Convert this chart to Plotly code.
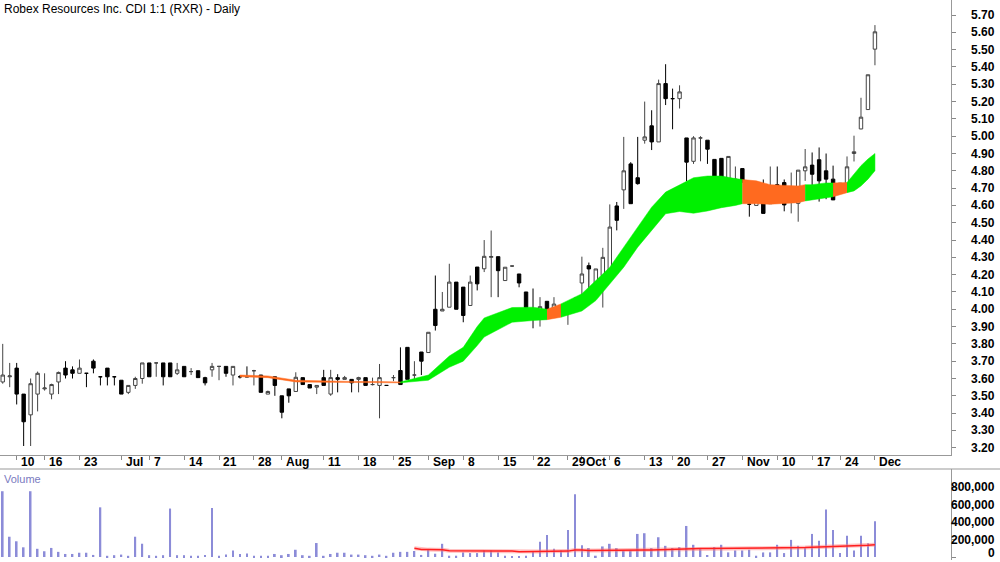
import pandas as pd
import plotly.graph_objects as go

# daily bars, 5 Jun .. 1 Dec (bar number on x)
opens = [3.58, 3.61, 3.66, 3.51, 3.39, 3.51, 3.54, 3.51, 3.58, 3.66, 3.65, 3.63, 3.63, 3.70, 3.61, 3.66, 3.61,
         3.59, 3.52, 3.56, 3.60, 3.69, 3.69, 3.69, 3.69, 3.63, 3.67, 3.64, 3.645, 3.605, 3.65, 3.67, 3.67, 3.62, 3.61, 3.61,
         3.645, 3.62, 3.51, 3.61, 3.50, 3.54, 3.525, 3.605, 3.565, 3.55, 3.605, 3.51, 3.605, 3.595, 3.595, 3.595, 3.605,
         3.565, 3.56, 3.56, 3.605, 3.646, 3.78, 3.62, 3.753, 3.75, 4.0, 3.99, 4.012, 4.157, 4.128, 4.022, 4.244, 4.234,
         4.30, 4.304, 4.166, 4.25, 4.204, 4.10, 4.0, 3.996, 4.046, 3.996, 4.02, 4.0, 4.02, 4.152, 4.252, 4.152, 4.195,
         4.214, 4.597, 4.69, 4.84, 4.76, 4.977, 5.06, 4.967, 5.304, 5.217, 5.217, 4.99, 4.855, 4.99, 4.977, 4.866, 4.872,
         4.752, 4.737, 4.813, 4.607, 4.60, 4.72, 4.61, 4.72, 4.732, 4.65, 4.612, 4.80, 4.833, 4.864, 4.80, 4.752, 4.728,
         4.723, 4.90, 5.042, 5.154, 5.503]
highs = [3.80, 3.69, 3.69, 3.51, 3.60, 3.64, 3.63, 3.57, 3.64, 3.70, 3.67, 3.71, 3.63, 3.71, 3.61, 3.66, 3.61,
         3.59, 3.56, 3.61, 3.69, 3.69, 3.69, 3.69, 3.69, 3.69, 3.67, 3.66, 3.645, 3.61, 3.69, 3.67, 3.67, 3.67, 3.62, 3.67,
         3.65, 3.62, 3.53, 3.61, 3.50, 3.54, 3.636, 3.605, 3.565, 3.56, 3.65, 3.65, 3.625, 3.615, 3.595, 3.61, 3.605,
         3.605, 3.684, 3.56, 3.62, 3.78, 3.78, 3.70, 3.753, 3.867, 4.195, 4.10, 4.263, 4.157, 4.128, 4.195, 4.244, 4.40,
         4.455, 4.304, 4.243, 4.25, 4.204, 4.10, 4.12, 4.07, 4.046, 4.07, 4.02, 4.0, 4.07, 4.304, 4.27, 4.233, 4.355,
         4.606, 4.62, 4.996, 4.85, 4.996, 5.20, 5.15, 5.327, 5.416, 5.275, 5.294, 4.99, 5.0, 5.0, 4.977, 4.866, 4.872,
         4.883, 4.825, 4.813, 4.655, 4.65, 4.75, 4.825, 4.825, 4.75, 4.79, 4.804, 4.926, 4.906, 4.935, 4.90, 4.83, 4.728,
         4.883, 5.003, 5.222, 5.355, 5.642]
lows = [3.57, 3.55, 3.45, 3.21, 3.21, 3.41, 3.53, 3.48, 3.51, 3.60, 3.60, 3.63, 3.55, 3.63, 3.56, 3.56, 3.56,
        3.51, 3.51, 3.54, 3.57, 3.61, 3.61, 3.56, 3.61, 3.62, 3.61, 3.62, 3.605, 3.56, 3.61, 3.59, 3.61, 3.56, 3.60, 3.61,
        3.56, 3.52, 3.51, 3.50, 3.37, 3.46, 3.525, 3.565, 3.545, 3.51, 3.56, 3.50, 3.52, 3.595, 3.52, 3.52, 3.56,
        3.56, 3.37, 3.56, 3.585, 3.565, 3.595, 3.588, 3.62, 3.75, 3.877, 3.99, 4.012, 4.0, 3.925, 4.022, 4.109, 4.215,
        4.07, 4.07, 4.166, 4.245, 4.127, 4.01, 3.89, 3.90, 3.97, 3.97, 3.96, 3.91, 4.0, 4.07, 4.07, 4.152, 4.01,
        4.214, 4.456, 4.58, 4.61, 4.72, 4.957, 4.92, 4.967, 5.18, 5.04, 5.16, 4.74, 4.84, 4.855, 4.84, 4.655, 4.62,
        4.74, 4.72, 4.73, 4.535, 4.60, 4.554, 4.61, 4.70, 4.566, 4.554, 4.506, 4.742, 4.684, 4.622, 4.636, 4.632, 4.674,
        4.723, 4.854, 5.04, 5.154, 5.41]
closes = [3.62, 3.615, 3.51, 3.35, 3.57, 3.63, 3.545, 3.565, 3.635, 3.62, 3.63, 3.66, 3.63, 3.66, 3.61, 3.61, 3.61,
          3.51, 3.56, 3.60, 3.69, 3.61, 3.69, 3.61, 3.61, 3.65, 3.61, 3.64, 3.605, 3.575, 3.67, 3.67, 3.63, 3.67, 3.61, 3.61,
          3.645, 3.52, 3.525, 3.56, 3.405, 3.50, 3.607, 3.565, 3.545, 3.56, 3.56, 3.605, 3.595, 3.605, 3.575, 3.605, 3.56,
          3.565, 3.605, 3.56, 3.605, 3.565, 3.595, 3.62, 3.70, 3.867, 3.906, 4.0, 4.157, 4.0, 3.964, 4.157, 4.147, 4.306,
          4.305, 4.223, 4.243, 4.25, 4.152, 4.01, 4.0, 4.015, 3.99, 4.03, 3.985, 4.0, 4.05, 4.204, 4.233, 4.233, 4.30,
          4.475, 4.514, 4.80, 4.61, 4.726, 4.996, 4.967, 5.304, 5.217, 5.217, 5.256, 4.85, 4.99, 4.99, 4.925, 4.688, 4.703,
          4.883, 4.752, 4.742, 4.607, 4.65, 4.554, 4.65, 4.71, 4.603, 4.65, 4.804, 4.823, 4.78, 4.742, 4.752, 4.632, 4.703,
          4.823, 4.91, 5.11, 5.355, 5.603]
volumes = [752, 232, 180, 111, 752, 94, 66, 104, 59, 35, 35, 49, 49, 24, 568, 14, 21, 28, 14, 232, 152, 21, 14, 21,
           554, 21, 21, 14, 14, 24, 560, 14, 28, 76, 35, 41, 14, 14, 14, 35, 21, 35, 83, 21, 14, 160, 14, 35, 49, 49,
           28, 28, 21, 14, 28, 14, 49, 59, 59, 69, 24, 83, 38, 151, 15, 15, 53, 45, 45, 75, 75, 53, 15, 8, 8, 15, 64,
           174, 253, 94, 75, 309, 717, 136, 102, 15, 121, 151, 102, 75, 75, 264, 272, 102, 226, 128, 102, 113, 355,
           140, 91, 23, 113, 140, 53, 75, 75, 83, 15, 53, 53, 140, 45, 196, 128, 102, 264, 185, 543, 309, 45, 242,
           75, 242, 158, 408]
volumes = [v * 1000 for v in volumes]

# average ribbon edges (g = rising/green, o = orange)
band_idx = [34, 38, 42, 46, 50, 54, 57, 61, 64, 66, 68, 69, 73, 76, 78, 80, 83, 85, 87, 89, 91, 93, 95, 97, 99,
            101, 103, 105, 106, 108, 110, 112, 114, 115, 116, 118, 119, 120, 121, 122, 123, 124, 125]
band_hi = [3.62, 3.615, 3.59, 3.585, 3.583, 3.582, 3.58, 3.62, 3.73, 3.78, 3.90, 3.95, 4.01, 4.012, 4.0, 4.031,
           4.09, 4.166, 4.243, 4.359, 4.475, 4.59, 4.677, 4.72, 4.76, 4.77, 4.77, 4.755, 4.75, 4.742, 4.72, 4.717,
           4.713, 4.72, 4.72, 4.73, 4.73, 4.73, 4.732, 4.78, 4.83, 4.868, 4.90]
band_lo = [3.61, 3.605, 3.58, 3.578, 3.575, 3.575, 3.575, 3.59, 3.665, 3.70, 3.79, 3.84, 3.925, 3.935, 3.94, 3.954,
           3.99, 4.05, 4.147, 4.243, 4.359, 4.455, 4.552, 4.565, 4.555, 4.568, 4.587, 4.60, 4.61, 4.61, 4.607, 4.61,
           4.616, 4.626, 4.635, 4.645, 4.65, 4.66, 4.674, 4.684, 4.713, 4.752, 4.80]
band_col = ['o', 'o', 'o', 'o', 'o', 'o', 'g', 'g', 'g', 'g', 'g', 'g', 'g', 'g', 'o', 'g', 'g', 'g', 'g', 'g',
            'g', 'g', 'g', 'g', 'g', 'g', 'g', 'g', 'o', 'o', 'o', 'o', 'o', 'g', 'g', 'g', 'o', 'o', 'g', 'g', 'g',
            'g', 'g']

tick_idx = [2, 6, 11, 17, 21, 26, 31, 36, 40, 46, 51, 56, 61, 66, 71, 76, 81, 83, 87, 92, 96, 101, 106, 111, 116, 120, 125]
tick_text = ['10', '16', '23', 'Jul', '7', '14', '21', '28', 'Aug', '11', '18', '25', 'Sep', '8', '15', '22', '29',
             'Oct', '6', '13', '20', '27', 'Nov', '10', '17', '24', 'Dec']

price_ticks = [3.2 + 0.1 * k for k in range(26)]
vol_ticks = [0, 200000, 400000, 600000, 800000]

bars = list(range(len(closes)))
H = 562
FONT = 'Liberation Sans, Arial, sans-serif'

fig = go.Figure()

# ribbon, drawn as runs of the same colour
colours = {'g': '#00f000', 'o': '#ff6a1f'}
start = 0
for i in range(1, len(band_idx)):
    if i == len(band_idx) - 1 or band_col[i] != band_col[start]:
        xs = band_idx[start:i + 1]
        fig.add_trace(go.Scatter(
            x=xs + xs[::-1], y=band_hi[start:i + 1] + band_lo[start:i + 1][::-1],
            fill='toself', fillcolor=colours[band_col[start]], mode='lines',
            line=dict(width=0.5, color=colours[band_col[start]]), hoverinfo='skip',
            xaxis='x', yaxis='y'))
        start = i

fig.add_trace(go.Candlestick(
    x=bars, open=opens, high=highs, low=lows, close=closes,
    increasing=dict(fillcolor='white', line=dict(color='#444444', width=1)),
    decreasing=dict(fillcolor='black', line=dict(color='black', width=1)),
    whiskerwidth=0, xaxis='x', yaxis='y'))

fig.add_trace(go.Bar(x=bars, y=volumes, width=0.25, marker=dict(color='#8c8cd8', line=dict(width=0)),
                     xaxis='x2', yaxis='y2'))

vol_avg = pd.Series(volumes).rolling(60).mean()
fig.add_trace(go.Scatter(x=bars, y=vol_avg, mode='lines', line=dict(color='rgba(255,120,120,0.45)', width=4),
                         xaxis='x2', yaxis='y2', hoverinfo='skip'))
fig.add_trace(go.Scatter(x=bars, y=vol_avg, mode='lines', line=dict(color='#ff1f1f', width=1.5),
                         xaxis='x2', yaxis='y2'))

xr = [-0.39, 135.9]
fig.update_layout(
    width=1000, height=H, margin=dict(l=0, r=49, t=0, b=0),
    paper_bgcolor='white', plot_bgcolor='white', showlegend=False,
    font=dict(family=FONT, size=12, color='black'),
    xaxis=dict(domain=[0, 1], range=xr, showgrid=False, zeroline=False, rangeslider=dict(visible=False),
               tickvals=tick_idx, showticklabels=False, ticks='outside', ticklen=4, tickcolor='#888888',
               showline=True, linecolor='#999999', linewidth=1, anchor='y'),
    yaxis=dict(domain=[1 - 455 / H, 1], range=[3.158, 5.787], side='right', showgrid=False, zeroline=False,
               tickvals=price_ticks, showticklabels=False, ticks='outside', ticklen=4, tickcolor='#888888',
               showline=True, linecolor='#999999'),
    xaxis2=dict(domain=[0, 1], range=xr, showgrid=False, zeroline=False, showticklabels=False, anchor='y2'),
    yaxis2=dict(domain=[(H - 560) / H, (H - 469) / H], range=[-34000, 1006000], side='right', showgrid=False,
                zeroline=False, tickvals=vol_ticks, showticklabels=False,
                ticks='outside', ticklen=4, tickcolor='#888888', showline=True, linecolor='#999999', anchor='x2'),
    shapes=[dict(type='line', xref='paper', yref='paper', x0=0, x1=1000 / 951, y0=(H - 469) / H, y1=(H - 469) / H,
                 line=dict(color='#999999', width=1))],
)

ann = [dict(text='Robex Resources Inc. CDI 1:1 (RXR) - Daily', xref='paper', yref='paper', x=0.002, y=1,
            xanchor='left', yanchor='top', showarrow=False, font=dict(size=12, color='black')),
       dict(text='Volume', xref='paper', yref='paper', x=0.002, y=(H - 471) / H, xanchor='left', yanchor='top',
            showarrow=False, font=dict(size=11, color='#7a7ac0'))]
for t, s in zip(tick_idx, tick_text):
    ann.append(dict(text=s, x=t + 0.35, xref='x', y=(H - 462) / H, yref='paper', xanchor='left', yanchor='middle',
                    showarrow=False, font=dict(size=12, color='black', weight='bold')))
for p in price_ticks:
    ann.append(dict(text=f'{p:.2f}', x=1, xref='paper', y=p, yref='y', xanchor='right', yanchor='middle',
                    xshift=46, showarrow=False, font=dict(size=12, color='black', weight='bold')))
for v in vol_ticks:
    ann.append(dict(text=f'{v:,}', x=1, xref='paper', y=v, yref='y2', xanchor='right',
                    yanchor='bottom' if v == 0 else 'middle', yshift=-5 if v == 0 else 0, xshift=46,
                    showarrow=False, font=dict(size=12, color='black', weight='bold')))
fig.update_layout(annotations=ann)

fig.write_html("out.html", config={'displayModeBar': False},
               post_script="document.body.style.margin='0';document.body.style.overflow='hidden';")
